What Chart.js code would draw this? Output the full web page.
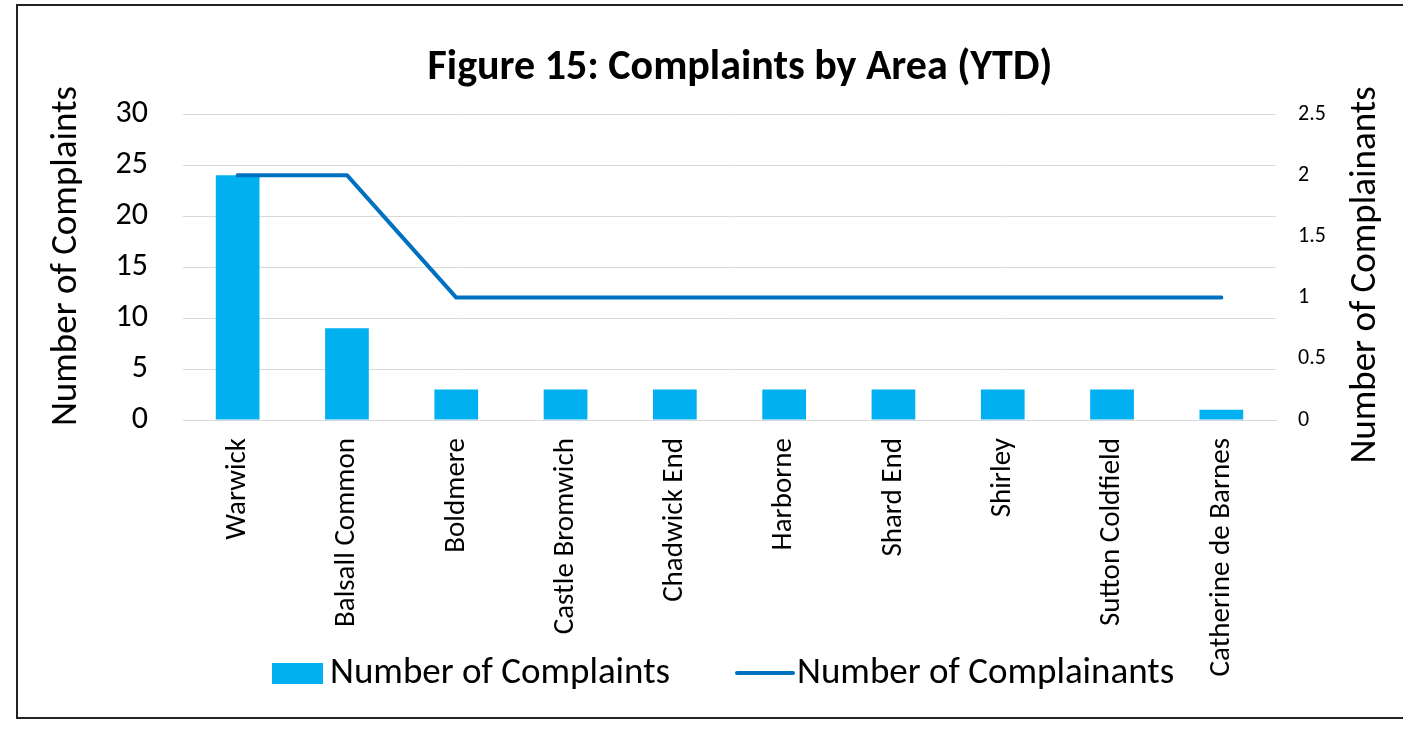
<!DOCTYPE html>
<html><head><meta charset="utf-8">
<script src="https://cdn.jsdelivr.net/npm/chart.js@4.4.1/dist/chart.umd.min.js"></script>
<style>html,body{margin:0;padding:0;background:#fff}#wrap{width:1403px;height:730px}</style>
</head><body><div id="wrap"><canvas id="c" width="1403" height="730"></canvas></div>
<script>
const categories = ['Warwick','Balsall Common','Boldmere','Castle Bromwich','Chadwick End','Harborne','Shard End','Shirley','Sutton Coldfield','Catherine de Barnes'];
const complaints = [24,9,3,3,3,3,3,3,3,1];
const complainants = [2,2,1,1,1,1,1,1,1,1];
const seriesNames = ['Number of Complaints','Number of Complainants'];
const axisTitles = ['Number of Complaints','Number of Complainants'];
const chartTitle = 'Figure 15: Complaints by Area (YTD)';

const FF = 'Carlito, Calibri, Lato, sans-serif';
const BAR = '#00B0F0', LINE = '#0070C0';

const decor = {
  id: 'decor',
  afterDraw(chart) {
    const ctx = chart.ctx;
    ctx.save();
    ctx.strokeStyle = '#222';
    ctx.lineWidth = 2;
    ctx.strokeRect(17, 5, 1400, 713);
    ctx.fillStyle = '#000';
    ctx.textAlign = 'center';
    ctx.textBaseline = 'middle';
    // chart title
    ctx.font = 'bold 42px ' + FF;
    ctx.fillText(chartTitle, 740, 68);
    // axis titles (both read bottom-to-top)
    ctx.font = '37px ' + FF;
    ctx.save(); ctx.translate(67, 256); ctx.rotate(-Math.PI / 2); ctx.fillText(axisTitles[0], 0, 0); ctx.restore();
    ctx.save(); ctx.translate(1366, 275); ctx.rotate(-Math.PI / 2); ctx.fillText(axisTitles[1], 0, 0); ctx.restore();
    // legend
    const ds = chart.data.datasets;
    const y = 673;
    ctx.fillStyle = ds[0].backgroundColor;
    ctx.fillRect(272, 663, 51, 21);
    ctx.fillStyle = '#000';
    ctx.textAlign = 'left';
    ctx.fillText(ds[0].label, 330, y + 1);
    ctx.strokeStyle = ds[1].borderColor;
    ctx.lineWidth = 4;
    ctx.lineCap = 'round';
    ctx.beginPath(); ctx.moveTo(737, y); ctx.lineTo(793, y); ctx.stroke();
    ctx.fillText(ds[1].label, 797, y + 1);
    ctx.restore();
  }
};

new Chart(document.getElementById('c'), {
  data: {
    labels: categories,
    datasets: [
      { type: 'bar', label: seriesNames[0], data: complaints, yAxisID: 'y',
        backgroundColor: BAR, categoryPercentage: 1, barPercentage: 0.4, order: 1 },
      { type: 'line', label: seriesNames[1], data: complainants, yAxisID: 'y1',
        borderColor: LINE, backgroundColor: LINE, borderWidth: 4, pointRadius: 0,
        tension: 0, borderCapStyle: 'round', borderJoinStyle: 'round', order: 0 }
    ]
  },
  options: {
    responsive: false,
    animation: false,
    devicePixelRatio: 1,
    layout: { padding: { top: 114, left: 0, right: 0, bottom: 0 } },
    plugins: {
      legend: { display: false },
      tooltip: { enabled: false },
      title: { display: false }
    },
    scales: {
      x: {
        grid: { display: false, drawTicks: false },
        border: { display: true, color: '#d9d9d9', width: 1 },
        ticks: { color: '#000', font: { family: FF, size: 29 }, minRotation: 90, maxRotation: 90, padding: 18, autoSkip: false },
        afterFit(s) { s.height = 310; }
      },
      y: {
        position: 'left', min: 0, max: 30,
        grid: { color: '#d9d9d9', drawTicks: false, lineWidth: 1 },
        border: { display: false },
        ticks: { stepSize: 5, color: '#000', font: { family: FF, size: 32 }, padding: 35 },
        afterFit(s) { s.width = 183; }
      },
      y1: {
        position: 'right', min: 0, max: 2.5,
        grid: { display: false, drawTicks: false },
        border: { display: false },
        ticks: { stepSize: 0.5, color: '#000', font: { family: FF, size: 22 }, padding: 22,
          callback: v => String(v) },
        afterFit(s) { s.width = 127; }
      }
    }
  },
  plugins: [decor]
});
</script>
</body></html>
